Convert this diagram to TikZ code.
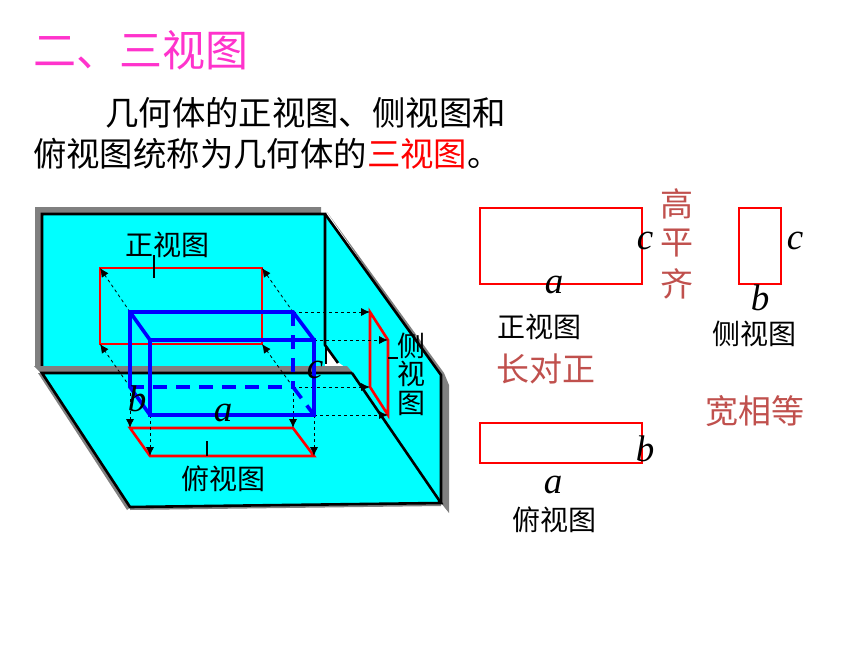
\documentclass[tikz,border=0pt]{standalone}
\usepackage{fontspec}
\setmainfont{Liberation Serif}
\newfontfamily\cjk{Noto Sans CJK SC}
\usetikzlibrary{arrows.meta}
\definecolor{wallc}{RGB}{0,255,255}
\definecolor{shadowc}{RGB}{128,128,128}
\definecolor{notec}{RGB}{192,80,77}
\definecolor{pinkt}{RGB}{255,51,204}
\definecolor{boxb}{RGB}{0,0,255}
\tikzset{
  titletext/.style={font=\cjk\fontsize{43}{43}\selectfont,text=pinkt,inner sep=0pt},
  bodytext/.style={font=\cjk\fontsize{33.4}{33.4}\selectfont,inner sep=0pt,anchor=west},
  lab/.style={font=\cjk\fontsize{28}{28}\selectfont,inner sep=0pt},
  notetext/.style={font=\cjk\fontsize{33}{33}\selectfont,text=notec,inner sep=0pt},
  var/.style={font=\itshape\fontsize{37}{37}\selectfont,inner sep=0pt},
  proj/.style={draw=red,line width=2.6pt,line join=miter},
  solidedge/.style={draw=boxb,line width=3.6pt,line cap=round},
  hid/.style={draw=boxb,line width=3.6pt,dash pattern=on 14pt off 9pt},
  ray/.style={draw=black,line width=.8pt,dash pattern=on 3pt off 3pt,-{Latex[length=9pt,width=8pt]}},
  wallline/.style={draw=black,line width=2.6pt,line join=miter},
  tickline/.style={draw=black,line width=2.6pt}
}
\begin{document}
\begin{tikzpicture}[x=1pt,y=-1pt]
\useasboundingbox (0,0) rectangle (860,645);
% named points of the solid
\foreach \n/\x/\y in {A/130/312,B/293/312,C/314/340,D/150/340,E/130/387,F/293/387,G/314/415,H/150/415,
  pa/100/268,pb/262/268,pc/262/344,pd/100/344,
  sa/370/312,sb/388/340,sc/388/415,sd/370/387,
  fa/130/428,fb/293/428,fc/314/456,fd/150/456}
  {\coordinate (\n) at (\x,\y);}
% shadows
\fill[shadowc] (35,207)--(321,207)--(321,214)--(43,214)--(43,366)--(35,366)--cycle;
\fill[shadowc] (327,212)--(444,373)--(449,385)--(449,513)--(441,503)--(441,378)--cycle;
\fill[shadowc] (130,510)--(441,506)--(441,503)--(130,507)--cycle;
\fill[shadowc] (38,373)--(127,510)--(131,507)--(42,373)--cycle;
% walls
\fill[wallc] (42,214)--(325,214)--(325,366)--(42,366)--cycle;
\fill[wallc] (325,214)--(441,375)--(441,503)--(352,372)--(338,362)--(325,345)--cycle;
\fill[white] (327,349)--(338,364)--(327,364)--cycle;
\draw[wallline] (42,366)--(42,214)--(325,214)--(325,345)--(338,363);
\draw[wallline] (326,345)--(326,364);
\draw[wallline] (325,214)--(441,375)--(441,503);
% floor
\fill[shadowc] (34,366)--(347,366)--(353,373)--(41,373)--cycle;
\fill[wallc] (42,373)--(352,373)--(441,503)--(130,507)--cycle;
\draw[wallline] (352,373)--(42,373)--(130,507)--(441,503)--(352,373);
% projections
\draw[proj] (pa)--(pb)--(pc)--(pd)--cycle;
\draw[proj] (sa)--(sb)--(sc)--(sd)--cycle;
\draw[proj] (fa)--(fb)--(fc)--(fd)--cycle;
% ticks
\draw[tickline] (154,255)--(154,278);
\draw[tickline] (207,441)--(207,456);
\draw[tickline] (388,358)--(398,358);
% rays
\draw[ray] (A)--(pa); \draw[ray] (B)--(pb); \draw[ray] (E)--(pd); \draw[ray] (F)--(pc);
\draw[ray] (B)--(sa); \draw[ray] (C)--(sb); \draw[ray] (F)--(sd); \draw[ray] (G)--(sc);
\draw[ray] (E)--(fa); \draw[ray] (F)--(fb); \draw[ray] (H)--(fd); \draw[ray] (G)--(fc);
% solid
\draw[solidedge] (E)--(A)--(B); \draw[solidedge] (A)--(D);
\draw[solidedge] (B)--(C);
\draw[solidedge] (D)--(C)--(G)--(H)--cycle;
\draw[solidedge] (E)--(H);
\draw[hid] (B)--(F);
\draw[hid] (E)--(F);
\draw[hid] (F)--(G);
% right-hand views
\coordinate (va1) at (480,208); \coordinate (va2) at (642,284);
\coordinate (vb1) at (739,208); \coordinate (vb2) at (781,284);
\coordinate (vc1) at (480,423); \coordinate (vc2) at (642,463);
\draw[proj] (va1) rectangle (va2);
\draw[proj] (vb1) rectangle (vb2);
\draw[proj] (vc1) rectangle (vc2);
% text
\node[titletext,anchor=west] (t0) at (33,50) {二、三视图};
\node[bodytext] (t1) at (105,113) {几何体的正视图、侧视图和};
\node[bodytext] (t2) at (33,154) {俯视图统称为几何体的\textcolor{red}{三视图}。};
\node[lab] (l1) at (167,245) {正视图};
\node[lab] (l2) at (223,479) {俯视图};
\node[lab] (l3a) at (411,346) {侧};
\node[lab] (l3b) at (411,374) {视};
\node[lab] (l3c) at (411,403) {图};
\node[lab] (l4) at (539,327) {正视图};
\node[lab] (l5) at (754,334) {侧视图};
\node[lab] (l6) at (554,520) {俯视图};
\node[notetext] (n1) at (677,204) {高};
\node[notetext] (n2) at (677,243) {平};
\node[notetext] (n3) at (677,284) {齐};
\node[notetext] (n4) at (546,369) {长对正};
\node[notetext] (n5) at (755,411) {宽相等};
\node[var] (v1) at (223,413) {a};
\node[var] (v2) at (137,399) {b};
\node[var] (v3) at (315,370) {c};
\node[var] (v4) at (554,285) {a};
\node[var] (v5) at (645,241) {c};
\node[var] (v6) at (795,241) {c};
\node[var] (v7) at (760,298) {b};
\node[var] (v8) at (645,449) {b};
\node[var] (v9) at (553,485) {a};
\end{tikzpicture}
\end{document}
